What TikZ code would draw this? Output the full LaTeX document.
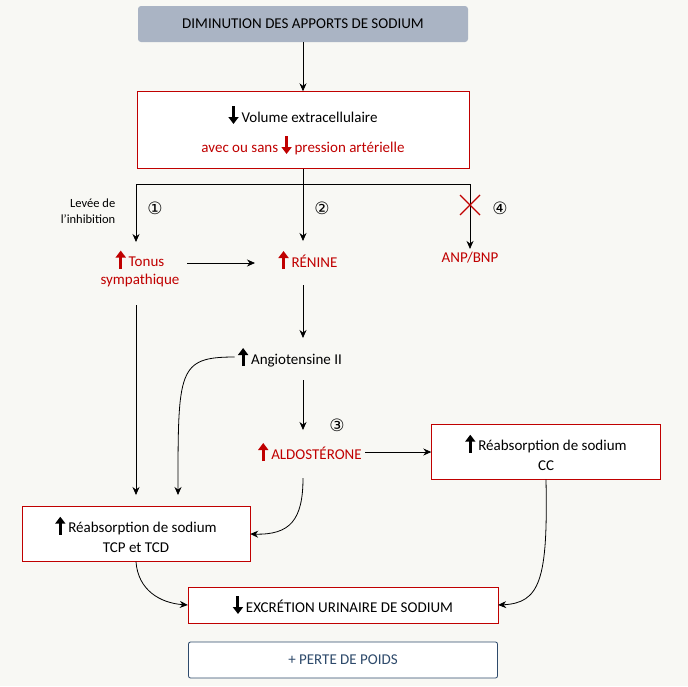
\documentclass[tikz,border=0pt]{standalone}
\usepackage{fontspec}
\setmainfont{Carlito}
\newfontfamily\symfont{DejaVu Sans}
\usetikzlibrary{arrows.meta, positioning}
\definecolor{bgc}{HTML}{F8F8F4}
\definecolor{redc}{HTML}{C00000}
\definecolor{topc}{HTML}{AAB4C4}
\definecolor{bluec}{HTML}{2E4A6B}
\newcommand{\fatup}[1]{\tikz[baseline=-1pt]\draw[#1,line width=3pt,-{Triangle[length=7pt,width=10pt]}](0,-3pt)--(0,15pt);\hspace{3pt}}
\newcommand{\fatdown}[1]{\tikz[baseline=-1pt]\draw[#1,line width=3pt,-{Triangle[length=7pt,width=10pt]}](0,15pt)--(0,-3pt);\hspace{3pt}}
\tikzset{
    box/.style={rectangle, draw=redc, fill=white, align=center, font=\fontsize{15}{20}\selectfont},
    label/.style={align=center, font=\fontsize{15}{18}\selectfont},
    arrow/.style={thick, -{Stealth[length=8pt,width=7pt]}},
    num/.style={font=\symfont\fontsize{17}{17}\selectfont, inner sep=0pt}
}
\begin{document}
\begin{tikzpicture}[x=1pt, y=-1pt]
    \fill[bgc] (0,0) rectangle (688,686);
    \useasboundingbox (0,0) rectangle (688,686);

    % Boxes
    \node (top) [rectangle, rounded corners=3pt, fill=topc, minimum width=330pt, minimum height=36pt, font=\fontsize{15}{18}\selectfont] at (303,24) {DIMINUTION DES APPORTS DE SODIUM};
    \node (vol) [box, minimum width=332pt, minimum height=77pt] at (303,130) {\fatdown{black}Volume extracellulaire\\[8pt] \textcolor{redc}{avec ou sans \fatdown{redc}pression artérielle}};
    \node (reabsCC) [box, minimum width=229pt, minimum height=55pt] at (546,452) {\fatup{black}Réabsorption de sodium\\CC};
    \node (reabsTCP) [box, minimum width=228pt, minimum height=55pt] at (136,534) {\fatup{black}Réabsorption de sodium\\TCP et TCD};
    \node (excr) [box, minimum width=310pt, minimum height=36pt] at (343,605) {\fatdown{black}EXCRÉTION URINAIRE DE SODIUM};
    \node (poids) [rectangle, draw=bluec, thick, rounded corners=2pt, fill=white, text=bluec, minimum width=309pt, minimum height=36pt, font=\fontsize{15}{18}\selectfont] at (343,660) {+ PERTE DE POIDS};

    % Plain labels
    \node (tonus) [label, text=redc] at (140,268) {\fatup{redc}Tonus\\sympathique};
    \node (renine) [label, text=redc] at (308,260) {\fatup{redc}RÉNINE};
    \node (anp) [label, text=redc] at (470,258) {ANP/BNP};
    \node (angio) [label] at (290,357) {\fatup{black}Angiotensine II};
    \node (aldo) [label, text=redc] at (310,452) {\fatup{redc}ALDOSTÉRONE};
    \node (levee) [align=right, font=\fontsize{12.5}{16}\selectfont] at (88,211) {Levée de\\l'inhibition};

    % Numbers
    \node (n1) [num] at (155,208) {①};
    \node (n2) [num] at (322,208) {②};
    \node (n3) [num] at (337,425) {③};
    \node (n4) [num] at (500,208) {④};

    % Branching
    \coordinate (jl) at (136,184);
    \coordinate (jr) at (470,184);
    \coordinate (tonusE) at (187,263);
    \draw [arrow] (top) -- (vol);
    \draw [thick] (jl) -- (jr);
    \draw [arrow] (vol.south) -- (303,241);
    \draw [arrow] (jl) -- (136,242);
    \draw [arrow] (jr) -- (anp.north);
    \draw [redc, line width=1.2pt] (460,195) -- (480,215) (460,215) -- (480,195);

    % Cascade
    \draw [arrow] (tonusE) -- (255,263);
    \draw [arrow] (303,285) -- (303,338);
    \draw [arrow] (303,380) -- (303,430);
    \draw [arrow] (aldo.east) -- (reabsCC.west |- aldo.east);
    \draw [arrow] (136,305) -- (136,495);
    \draw [arrow] (angio.west) .. controls (178,357) and (178,370) .. (178,495);
    \draw [arrow] (303,478) .. controls (303,520) and (290,535) .. (reabsTCP.east);
    \draw [arrow] (reabsTCP.south) .. controls (138,590) and (160,603) .. (excr.west);
    \draw [arrow] (reabsCC.south) .. controls (548,580) and (540,603) .. (excr.east);
\end{tikzpicture}
\end{document}
